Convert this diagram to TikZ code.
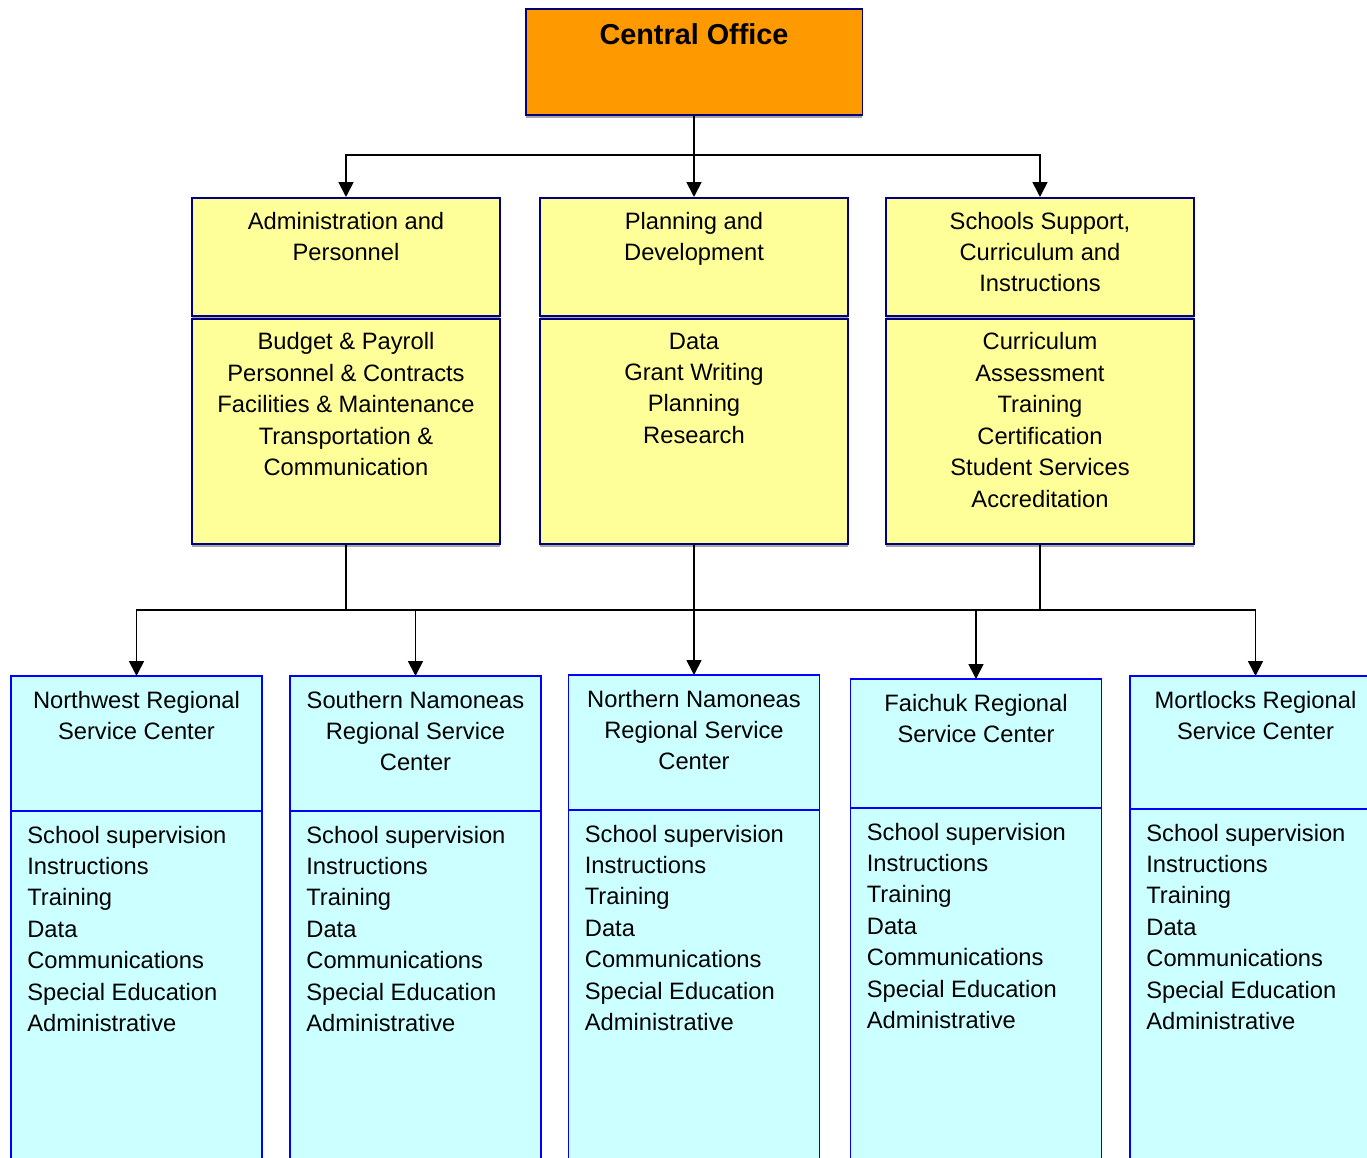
\documentclass[tikz,border=0pt]{standalone}
\usepackage{fontspec}
\setmainfont{Liberation Sans}
\usetikzlibrary{positioning, arrows.meta, shadows, calc}
\definecolor{cofill}{RGB}{255,153,0}
\definecolor{conavy}{RGB}{0,0,128}
\definecolor{dptfill}{RGB}{255,255,153}
\definecolor{rscfill}{RGB}{204,255,255}
\definecolor{rscblue}{RGB}{0,0,255}
\tikzset{
    boxfont/.style={font=\fontsize{13.5}{17.9}\selectfont},
    boxshadow/.style={drop shadow={shadow xshift=0pt, shadow yshift=-1.7pt, fill=gray, opacity=0.7}},
    cobox/.style={rectangle, draw=conavy, fill=cofill, line width=1.1pt, minimum width=6.74cm, minimum height=2.12cm, anchor=north, boxshadow},
    cotext/.style={font=\fontsize{16.4}{20}\selectfont\bfseries, inner sep=0pt, anchor=north, yshift=-0.31cm},
    dptbox/.style={rectangle, draw=conavy, fill=dptfill, line width=1.1pt, minimum width=6.16cm, boxshadow},
    dpttop/.style={dptbox, minimum height=2.36cm, anchor=north},
    dptlow/.style={dptbox, minimum height=4.5cm},
    rscbox/.style={rectangle, draw=rscblue, fill=rscfill, line width=0.9pt, outer sep=0pt, minimum width=5.02cm},
    rsctop/.style={rscbox, minimum height=2.7cm, anchor=north},
    rsclow/.style={rscbox, minimum height=8.4cm},
    headtext/.style={boxfont, align=center, inner sep=0pt, anchor=north, yshift=-0.29cm},
    listtext/.style={boxfont, align=left, inner sep=0pt, anchor=north west, xshift=0.32cm, yshift=-0.29cm},
    link/.style={line width=1pt},
    boldlink/.style={line width=1.6pt},
    arrow/.style={link, -{Triangle[length=8.5pt, width=8.5pt]}}
}

\begin{document}
\begin{tikzpicture}[x=0.02cm, y=-0.02cm]
\clip (0,0) rectangle (1367,1158);

% head office
\node[cobox] (central) at (694,8) {};
\node[cotext] (centraltxt) at (central.north) {Central Office};

% departments
\node[dpttop] (admtop) at (346,197) {};
\node[dptlow, below=0.02cm of admtop] (admlow) {};
\node[headtext] (admhead) at (admtop.north) {Administration and\\Personnel};
\node[headtext] (admlist) at (admlow.north) {Budget \& Payroll\\Personnel \& Contracts\\Facilities \& Maintenance\\Transportation \&\\Communication};

\node[dpttop] (plantop) at (694,197) {};
\node[dptlow, below=0.02cm of plantop] (planlow) {};
\node[headtext] (planhead) at (plantop.north) {Planning and\\Development};
\node[headtext] (planlist) at (planlow.north) {Data\\Grant Writing\\Planning\\Research};

\node[dpttop] (sstop) at (1040,197) {};
\node[dptlow, below=0.02cm of sstop] (sslow) {};
\node[headtext] (sshead) at (sstop.north) {Schools Support,\\Curriculum and\\Instructions};
\node[headtext] (sslist) at (sslow.north) {Curriculum\\Assessment\\Training\\Certification\\Student Services\\Accreditation};

% regional service centers
\node[rsctop] (nwtop) at (136.5,676) {};
\node[rsclow, below=0pt of nwtop] (nwlow) {};
\node[headtext] (nwhead) at (nwtop.north) {Northwest Regional\\Service Center};
\node[listtext] (nwlist) at (nwlow.north west) {School supervision\\Instructions\\Training\\Data\\Communications\\Special Education\\Administrative};

\node[rsctop] (sntop) at (415.5,676) {};
\node[rsclow, below=0pt of sntop] (snlow) {};
\node[headtext] (snhead) at (sntop.north) {Southern Namoneas\\Regional Service\\Center};
\node[listtext] (snlist) at (snlow.north west) {School supervision\\Instructions\\Training\\Data\\Communications\\Special Education\\Administrative};

\node[rsctop] (nntop) at (694,675) {};
\node[rsclow, below=0pt of nntop] (nnlow) {};
\node[headtext] (nnhead) at (nntop.north) {Northern Namoneas\\Regional Service\\Center};
\node[listtext] (nnlist) at (nnlow.north west) {School supervision\\Instructions\\Training\\Data\\Communications\\Special Education\\Administrative};

\node[rsctop, minimum height=2.58cm] (fctop) at (976,679) {};
\node[rsclow, below=0pt of fctop] (fclow) {};
\node[headtext] (fchead) at (fctop.north) {Faichuk Regional\\Service Center};
\node[listtext] (fclist) at (fclow.north west) {School supervision\\Instructions\\Training\\Data\\Communications\\Special Education\\Administrative};

\node[rsctop, minimum height=2.66cm] (mltop) at (1255.5,676) {};
\node[rsclow, below=0pt of mltop] (mllow) {};
\node[headtext] (mlhead) at (mltop.north) {Mortlocks Regional\\Service Center};
\node[listtext] (mllist) at (mllow.north west) {School supervision\\Instructions\\Training\\Data\\Communications\\Special Education\\Administrative};

% connectors
\coordinate (topbus) at (694,155);
\draw[link] (central.south) -- (topbus);
\draw[arrow] (topbus) -| (admtop.north);
\draw[arrow] (topbus) -- (plantop.north);
\draw[arrow] (topbus) -| (sstop.north);

\coordinate (lowbus) at (694,610);
\draw[link] (admlow.south) |- (lowbus);
\draw[boldlink] (planlow.south) -- (lowbus);
\draw[link] (sslow.south) -- (sslow.south |- lowbus);
\draw[boldlink] (sslow.south |- lowbus) -- (lowbus);
\draw[arrow] (lowbus) -| (nwtop.north);
\draw[arrow] (lowbus) -| (sntop.north);
\draw[arrow] (lowbus) -- (nntop.north);
\draw[arrow] (lowbus) -| (fctop.north);
\draw[arrow] (lowbus) -| (mltop.north);
\end{tikzpicture}
\end{document}
